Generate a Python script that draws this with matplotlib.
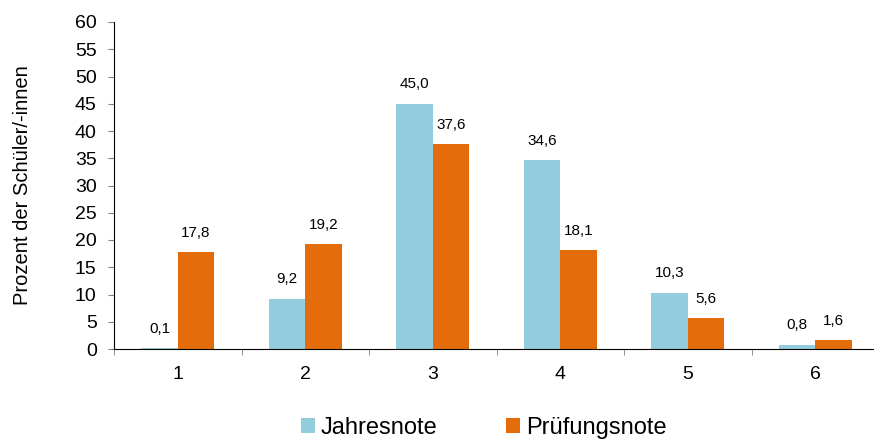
import numpy as np
import matplotlib.pyplot as plt

# data
noten = ['1', '2', '3', '4', '5', '6']
jahresnote = [0.1, 9.2, 45.0, 34.6, 10.3, 0.8]
pruefungsnote = [17.8, 19.2, 37.6, 18.1, 5.6, 1.6]
yticks = list(range(0, 61, 5))

blue = '#93CDDD'
orange = '#E46C0A'

plt.rcParams['font.family'] = ['Liberation Sans', 'DejaVu Sans']

fig = plt.figure(figsize=(8.74, 4.41), dpi=100)
ax = fig.add_axes([114/874, 1 - 349/441, 765/874, 327/441])

x = np.arange(len(noten))
w = 0.286
b1 = ax.bar(x - w/2, jahresnote, w, color=blue, label='Jahresnote')
b2 = ax.bar(x + w/2, pruefungsnote, w, color=orange, label='Prüfungsnote')

def fmt(v):
    return ('%.1f' % v).replace('.', ',')

for bars, vals in ((b1, jahresnote), (b2, pruefungsnote)):
    for r, v in zip(bars, vals):
        ax.annotate(fmt(v), (r.get_x() + r.get_width()/2, v),
                    xytext=(0, 14), textcoords='offset points',
                    ha='center', va='center', fontsize=11)

ax.set_xlim(-0.5, len(noten) - 0.5)
ax.set_ylim(0, 60)
ax.set_yticks(yticks)
ax.set_yticklabels([str(t) for t in yticks], fontsize=14)
ax.set_xticks(x)
ax.set_xticklabels(noten, fontsize=14)
ax.set_xticks(np.arange(-0.5, len(noten), 1), minor=True)
ax.tick_params(axis='x', which='major', length=0, pad=12)
ax.tick_params(axis='x', which='minor', length=4.5, color='#808080', direction='out')
ax.tick_params(axis='y', length=4.5, color='#808080', direction='out', pad=8)
ax.set_ylabel('Prozent der Schüler/-innen', fontsize=14.5)
ax.yaxis.set_label_coords(-0.107, 0.5)

for s in ('top', 'right'):
    ax.spines[s].set_visible(False)
ax.spines['left'].set_color('black')
ax.spines['bottom'].set_color('black')

fig.legend(handles=[b1, b2], loc='center', bbox_to_anchor=(484/874, 1 - 428/441),
           ncol=2, frameon=False, fontsize=17, handlelength=0.6, handleheight=0.6,
           handletextpad=0.25, columnspacing=2.9)

plt.savefig('out.png', dpi=100)
